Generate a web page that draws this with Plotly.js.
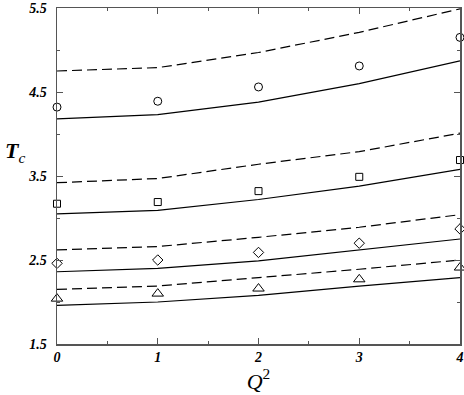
<!DOCTYPE html>
<html>
<head>
<meta charset="utf-8">
<script src="https://cdn.plot.ly/plotly-3.0.1.min.js"></script>
<style>html,body{margin:0;padding:0;background:#fff;}#chart{width:464px;height:395px;}</style>
</head>
<body>
<div id="chart"></div>
<script>
const q2 = [0, 1, 2, 3, 4];

const circlePts   = [4.32, 4.39, 4.56, 4.81, 5.15];
const circleSolid = [4.18, 4.23, 4.38, 4.60, 4.87];
const circleDash  = [4.75, 4.79, 4.97, 5.21, 5.49];

const squarePts   = [3.17, 3.19, 3.32, 3.49, 3.69];
const squareSolid = [3.05, 3.09, 3.22, 3.38, 3.58];
const squareDash  = [3.42, 3.47, 3.64, 3.79, 4.01];

const diamondPts   = [2.46, 2.50, 2.59, 2.70, 2.87];
const diamondSolid = [2.36, 2.40, 2.49, 2.62, 2.75];
const diamondDash  = [2.62, 2.66, 2.77, 2.89, 3.04];

const trianglePts   = [2.04, 2.10, 2.16, 2.27, 2.41];
const triangleSolid = [1.96, 2.00, 2.08, 2.19, 2.29];
const triangleDash  = [2.15, 2.19, 2.29, 2.39, 2.50];

const yTickVals = [1.5, 2.5, 3.5, 4.5, 5.5];
const yTickText = ['1.5', '2.5', '3.5', '4.5', '5.5'];
const xTickVals = [0, 1, 2, 3, 4];
const xTickText = ['0', '1', '2', '3', '4'];

function lineTrace(y, dash) {
  return {x: q2, y: y, mode: 'lines', type: 'scatter', showlegend: false,
    line: {color: '#000', width: 1.2, dash: dash}, hoverinfo: 'skip'};
}
function markTrace(y, symbol, size) {
  return {x: q2, y: y, mode: 'markers', type: 'scatter', showlegend: false, cliponaxis: false,
    marker: {symbol: symbol, size: size, color: '#000', line: {color: '#000', width: 1}}};
}

const traces = [
  lineTrace(circleSolid, 'solid'), lineTrace(circleDash, '10px,5px'), markTrace(circlePts, 'circle-open', 8),
  lineTrace(squareSolid, 'solid'), lineTrace(squareDash, '10px,5px'), markTrace(squarePts, 'square-open', 7),
  lineTrace(diamondSolid, 'solid'), lineTrace(diamondDash, '10px,5px'), markTrace(diamondPts, 'diamond-open', 8),
  lineTrace(triangleSolid, 'solid'), lineTrace(triangleDash, '10px,5px'), markTrace(trianglePts, 'triangle-up-open', 10)
];

const bi = s => '<b><i>' + s + '</i></b>';
const tickFont = {family: 'Liberation Serif', size: 14, color: '#000'};

const layout = {
  width: 464, height: 395,
  margin: {l: 57, r: 4, t: 8, b: 51},
  paper_bgcolor: '#fff', plot_bgcolor: '#fff',
  showlegend: false,
  xaxis: {
    range: [0, 4], tickvals: xTickVals, ticktext: xTickText.map(bi),
    ticks: 'inside', ticklen: 6, tickcolor: '#555', tickwidth: 1,
    minor: {dtick: 0.5, ticks: 'inside', ticklen: 3, tickcolor: '#555'},
    showline: true, linecolor: '#555', linewidth: 1.5, mirror: 'ticks',
    showgrid: false, zeroline: false, tickfont: tickFont,
    title: {text: '<i>Q</i><sup>2</sup>', font: {family: 'Liberation Serif', size: 22, color: '#000'}, standoff: 2}
  },
  yaxis: {
    range: [1.5, 5.5], tickvals: yTickVals, ticktext: yTickText.map(bi),
    ticks: 'inside', ticklen: 6, tickcolor: '#555', tickwidth: 1,
    minor: {dtick: 0.5, tick0: 1.5, ticks: 'inside', ticklen: 3, tickcolor: '#555'},
    showline: true, linecolor: '#555', linewidth: 1.5, mirror: 'ticks',
    showgrid: false, zeroline: false, tickfont: tickFont, ticklabelstandoff: 6
  },
  annotations: [{
    text: '<b><i>T</i></b><sub><i>c</i></sub>', xref: 'paper', yref: 'paper',
    x: -0.105, y: 0.57, xanchor: 'center', yanchor: 'middle', showarrow: false,
    font: {family: 'Liberation Serif', size: 22, color: '#000'}
  }]
};

Plotly.newPlot('chart', traces, layout, {displayModeBar: false, staticPlot: true});
</script>
</body>
</html>
